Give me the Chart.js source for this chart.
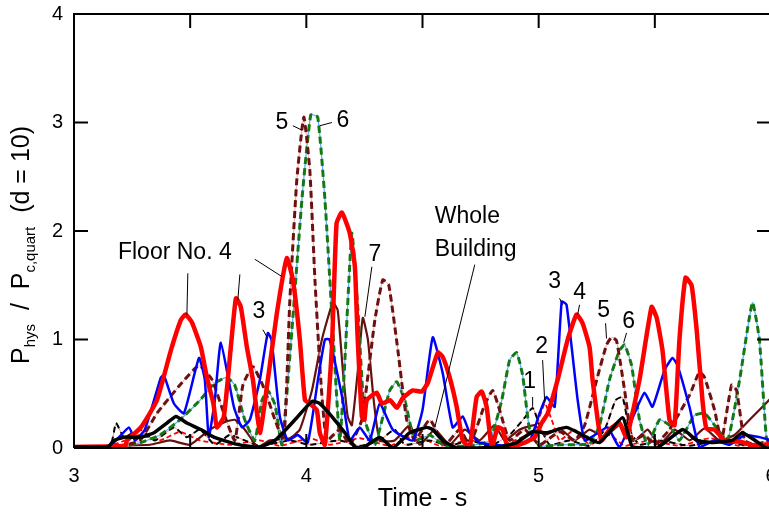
<!DOCTYPE html>
<html>
<head>
<meta charset="utf-8">
<script src="https://cdn.jsdelivr.net/npm/chart.js@4/dist/chart.umd.min.js"></script>
<style>
  html, body { margin: 0; padding: 0; background: #fff; overflow: hidden; }
  #wrap { width: 776px; height: 512px; }
</style>
</head>
<body>
<div id="wrap"><canvas id="chart" width="776" height="512"></canvas></div>
<script>
// time (s) / P_hys over P_c,quart
const xTickLabels = [3, 4, 5, 6];
const yTickLabels = [0, 1, 2, 3, 4];

const floor4 = [[3.00,0.01],[3.22,0.02],[3.228,0.07],[3.288,0.19],[3.357,0.44],[3.417,0.90],[3.46,1.18],[3.48,1.23],[3.507,1.16],
  [3.546,0.93],[3.572,0.65],[3.60,0.41],[3.615,0.19],[3.645,0.29],[3.675,0.93],[3.697,1.38],[3.718,1.30],[3.744,0.93],[3.77,0.63],
  [3.80,0.14],[3.83,0.56],[3.873,1.24],[3.916,1.75],[3.942,1.55],[3.972,1.0],[3.994,0.44],[4.015,0.41],[4.045,0.35],[4.058,0.14],
  [4.08,0.03],[4.11,0.93],[4.13,2.07],[4.153,2.17],[4.187,1.98],[4.209,1.67],[4.22,1.06],[4.239,0.29],[4.25,0.26],[4.26,0.44],
  [4.303,0.51],[4.325,0.41],[4.36,0.44],[4.39,0.37],[4.415,0.46],[4.458,0.53],[4.497,0.52],[4.523,0.60],[4.566,0.88],[4.587,0.84],
  [4.617,0.65],[4.647,0.38],[4.673,0.07],[4.703,0.01],[4.733,0.47],[4.755,0.52],[4.776,0.38],[4.798,0.01],[4.824,0.19],[4.845,0.17],
  [4.867,0.01],[4.94,0.05],[4.983,0.10],[5.013,0.23],[5.039,0.32],[5.082,0.63],[5.125,1.0],[5.163,1.23],[5.189,1.15],[5.219,0.93],
  [5.232,0.63],[5.254,0.26],[5.27,0.07],[5.305,0.17],[5.348,0.23],[5.378,0.10],[5.434,0.63],[5.486,1.30],[5.508,1.20],[5.533,0.90],
  [5.563,0.26],[5.585,0.21],[5.606,1.0],[5.632,1.57],[5.658,1.50],[5.68,1.09],[5.705,0.44],[5.722,0.18],[5.757,0.17],[5.80,0.07],
  [5.865,0.06],[5.93,0.02],[6.0,0.04]];

const floor3 = [[3.0,0.01],[3.155,0.02],[3.237,0.19],[3.262,0.07],[3.305,0.17],[3.374,0.65],[3.387,0.67],[3.43,0.41],[3.473,0.32],
  [3.538,0.83],[3.563,0.63],[3.58,0.10],[3.606,0.44],[3.632,0.97],[3.688,0.38],[3.723,0.19],[3.757,0.26],[3.80,0.63],[3.834,1.06],
  [3.85,1.0],[3.886,0.29],[3.92,0.07],[3.963,0.12],[4.006,0.05],[4.05,0.63],[4.08,1.0],[4.10,1.0],[4.157,0.44],[4.187,0.07],
  [4.23,0.19],[4.273,0.07],[4.316,0.41],[4.372,0.17],[4.458,0.07],[4.50,0.35],[4.544,1.02],[4.587,0.69],[4.63,0.19],[4.673,0.29],
  [4.703,0.14],[4.746,0.05],[4.875,0.02],[4.961,0.07],[5.004,0.32],[5.034,0.47],[5.069,0.38],[5.099,1.35],[5.12,1.32],[5.168,0.44],
  [5.198,0.07],[5.241,0.12],[5.297,0.19],[5.348,0.01],[5.413,0.32],[5.456,0.51],[5.49,0.38],[5.542,0.72],[5.576,0.83],[5.598,0.76],
  [5.649,0.38],[5.692,0.01],[5.757,0.07],[5.822,0.03],[5.886,0.12],[5.95,0.10],[6.0,0.07]];

const floor5 = [[3.0,0.01],[3.198,0.02],[3.284,0.07],[3.357,0.32],[3.456,0.58],[3.538,0.76],[3.594,0.63],[3.645,0.32],[3.692,0.07],
  [3.727,0.58],[3.77,0.75],[3.822,0.53],[3.865,0.26],[3.903,0.07],[3.929,1.36],[3.959,2.47],[3.989,3.05],[4.015,2.56],[4.037,1.55],
  [4.062,0.63],[4.088,0.07],[4.144,0.17],[4.187,0.03],[4.239,0.26],[4.295,1.18],[4.329,1.55],[4.355,1.50],[4.394,0.90],[4.432,0.26],
  [4.467,0.07],[4.531,0.26],[4.596,0.03],[4.66,0.17],[4.703,0.03],[4.768,0.40],[4.802,0.53],[4.832,0.35],[4.875,0.07],[4.94,0.17],
  [5.004,0.03],[5.09,0.15],[5.155,0.07],[5.198,0.21],[5.25,0.63],[5.292,0.95],[5.314,1.02],[5.335,0.99],[5.37,0.53],[5.404,0.07],
  [5.456,0.12],[5.499,0.03],[5.563,0.17],[5.65,0.49],[5.692,0.70],[5.714,0.65],[5.757,0.35],[5.787,0.07],[5.83,0.58],[5.852,0.53],
  [5.886,0.07],[5.929,0.03],[6.0,0.07]];

const floor6 = [[3.0,0.01],[3.22,0.02],[3.288,0.05],[3.37,0.12],[3.456,0.26],[3.542,0.44],[3.606,0.60],[3.658,0.65],[3.692,0.58],
  [3.735,0.26],[3.778,0.07],[3.809,0.44],[3.834,0.53],[3.865,0.40],[3.895,0.03],[3.938,1.09],[3.981,2.29],[4.019,3.07],[4.049,3.05],
  [4.08,2.29],[4.114,1.09],[4.144,0.07],[4.166,0.81],[4.196,1.98],[4.222,1.27],[4.252,0.26],[4.295,0.03],[4.359,0.53],[4.389,0.61],
  [4.424,0.44],[4.467,0.07],[4.531,0.12],[4.596,0.02],[4.703,0.02],[4.789,0.07],[4.841,0.44],[4.875,0.81],[4.905,0.88],[4.931,0.67],
  [4.961,0.17],[5.004,0.02],[5.09,0.03],[5.219,0.04],[5.262,0.21],[5.305,0.63],[5.348,0.90],[5.37,0.95],[5.40,0.76],[5.434,0.26],
  [5.469,0.03],[5.52,0.26],[5.563,0.21],[5.606,0.07],[5.67,0.30],[5.714,0.32],[5.757,0.21],[5.813,0.07],[5.865,0.63],[5.92,1.34],
  [5.95,1.0],[5.98,0.10],[6.0,0.03]];

const floor7 = [[3.0,0.01],[3.327,0.03],[3.413,0.07],[3.499,0.03],[3.585,0.17],[3.65,0.24],[3.692,0.26],[3.735,0.17],[3.791,0.01],
  [3.843,0.07],[3.929,0.09],[3.972,0.17],[4.024,0.53],[4.067,1.0],[4.114,1.34],[4.135,1.27],[4.157,0.72],[4.178,0.29],[4.196,0.21],
  [4.222,0.72],[4.243,1.20],[4.265,1.0],[4.29,0.44],[4.316,0.07],[4.38,0.07],[4.445,0.21],[4.488,0.03],[4.553,0.17],[4.617,0.03],
  [4.682,0.17],[4.746,0.07],[4.81,0.21],[4.854,0.07],[4.918,0.17],[4.983,0.21],[5.026,0.12],[5.09,0.18],[5.155,0.07],[5.219,0.17],
  [5.284,0.10],[5.348,0.21],[5.413,0.07],[5.469,0.17],[5.52,0.03],[5.585,0.17],[5.65,0.07],[5.714,0.18],[5.778,0.07],[5.843,0.12],
  [5.908,0.26],[6.0,0.46]];

const floor1 = [[3.0,0.01],[3.155,0.02],[3.181,0.23],[3.215,0.10],[3.284,0.17],[3.348,0.07],[3.43,0.19],[3.486,0.10],[3.542,0.17],
  [3.606,0.03],[3.67,0.12],[3.735,0.07],[3.80,0.02],[3.929,0.07],[4.015,0.03],[4.144,0.07],[4.23,0.02],[4.316,0.07],[4.38,0.17],
  [4.424,0.03],[4.531,0.07],[4.617,0.02],[4.703,0.07],[4.789,0.02],[4.875,0.12],[4.94,0.28],[4.974,0.37],[5.004,0.21],[5.047,0.03],
  [5.133,0.07],[5.219,0.02],[5.284,0.17],[5.331,0.44],[5.361,0.47],[5.391,0.17],[5.434,0.03],[5.52,0.07],[5.65,0.02],[5.778,0.07],
  [5.908,0.02],[6.0,0.07]];

const floor2 = [[3.0,0.01],[3.155,0.02],[3.22,0.07],[3.284,0.12],[3.37,0.07],[3.456,0.15],[3.542,0.07],[3.67,0.03],[3.80,0.07],
  [3.886,0.02],[4.015,0.09],[4.101,0.03],[4.23,0.09],[4.359,0.02],[4.467,0.12],[4.574,0.02],[4.703,0.07],[4.832,0.02],[4.918,0.09],
  [4.983,0.17],[5.026,0.41],[5.056,0.26],[5.09,0.07],[5.155,0.17],[5.219,0.03],[5.305,0.12],[5.37,0.02],[5.477,0.07],[5.606,0.02],
  [5.736,0.09],[5.865,0.02],[6.0,0.07]];

const wholeBuilding = [[3.0,0.01],[3.146,0.01],[3.172,0.07],[3.215,0.10],[3.288,0.10],[3.344,0.14],[3.40,0.23],[3.439,0.29],
  [3.486,0.23],[3.546,0.17],[3.602,0.10],[3.675,0.05],[3.735,0.02],[3.80,0.01],[3.865,0.07],[3.951,0.26],[4.024,0.43],[4.058,0.41],
  [4.11,0.29],[4.166,0.14],[4.209,0.01],[4.243,0.0],[4.316,0.10],[4.372,0.0],[4.445,0.14],[4.518,0.19],[4.544,0.17],[4.587,0.07],
  [4.647,0.0],[4.733,0.0],[4.832,0.01],[4.905,0.05],[4.974,0.15],[5.034,0.14],[5.12,0.19],[5.206,0.10],[5.262,0.05],[5.361,0.28],
  [5.404,0.01],[5.508,0.0],[5.62,0.17],[5.68,0.07],[5.748,0.05],[5.834,0.07],[5.877,0.14],[5.98,0.0],[6.0,0.0]];

// labels on the plot: text position and leader line, in data units
const notes = [
  { text: '5', at: [3.895, 3.0], line: [[3.942, 2.97], [3.981, 2.93]] },
  { text: '6', at: [4.157, 3.02], line: [[4.11, 3.0], [4.058, 2.97]] },
  { text: 'Floor No. 4', at: [3.434, 1.80], line: [[3.49, 1.61], [3.486, 1.23]] },
  { text: '', at: null, line: [[3.714, 1.60], [3.705, 1.36]] },
  { text: '', at: null, line: [[3.778, 1.74], [3.895, 1.58]] },
  { text: '3', at: [3.796, 1.26], line: [[3.813, 1.09], [3.834, 1.01]] },
  { text: '7', at: [4.295, 1.78], line: [[4.282, 1.67], [4.252, 1.21]] },
  { text: 'Whole', at: [4.553, 2.13], align: 'left', line: [[4.725, 1.69], [4.553, 0.19]] },
  { text: 'Building', at: [4.553, 1.83], align: 'left', line: null },
  { text: '1', at: [4.961, 0.61], line: [[4.974, 0.47], [4.974, 0.38]] },
  { text: '2', at: [5.013, 0.93], line: [[5.017, 0.81], [5.026, 0.42]] },
  { text: '3', at: [5.069, 1.53], line: [[5.09, 1.38], [5.103, 1.32]] },
  { text: '4', at: [5.176, 1.43], line: [[5.176, 1.32], [5.168, 1.23]] },
  { text: '5', at: [5.28, 1.27], line: [[5.288, 1.15], [5.292, 1.01]] },
  { text: '6', at: [5.387, 1.16], line: [[5.378, 1.06], [5.366, 0.97]] }
];

const FONT = '"Liberation Sans", Arial, sans-serif';
const pts = arr => arr.map(p => ({ x: p[0], y: p[1] }));

function line(label, data, color, width, dash) {
  return {
    label: label,
    data: pts(data),
    borderColor: color,
    borderWidth: width,
    borderDash: dash || [],
    pointRadius: 0,
    tension: 0.15,
    fill: false
  };
}

// inward ticks, box, rotated y title with subscripts, and the labels
const framePlugin = {
  id: 'frame',
  afterDatasetsDraw(chart) {
    const ctx = chart.ctx;
    const a = chart.chartArea;
    const xs = chart.scales.x, ys = chart.scales.y;
    ctx.save();
    ctx.strokeStyle = '#000';
    ctx.lineWidth = 2;
    ctx.beginPath();
    ctx.moveTo(a.left, a.bottom); ctx.lineTo(a.left, a.top); ctx.lineTo(a.right, a.top);
    ctx.lineTo(a.right, a.bottom); ctx.lineTo(a.left, a.bottom);
    ctx.stroke();
    const len = 14;
    ctx.beginPath();
    for (let t = 3; t <= 6.001; t += 0.5) {
      const px = xs.getPixelForValue(t);
      ctx.moveTo(px, a.top); ctx.lineTo(px, a.top + len);
      ctx.moveTo(px, a.bottom); ctx.lineTo(px, a.bottom - len);
    }
    yTickLabels.forEach(v => {
      const py = ys.getPixelForValue(v);
      ctx.moveTo(a.left, py); ctx.lineTo(a.left + len, py);
      ctx.moveTo(a.right, py); ctx.lineTo(a.right - len, py);
    });
    ctx.stroke();

    // annotations
    ctx.lineWidth = 1;
    ctx.fillStyle = '#000';
    ctx.font = '23px ' + FONT;
    ctx.textBaseline = 'middle';
    notes.forEach(n => {
      if (n.line) {
        ctx.beginPath();
        ctx.moveTo(xs.getPixelForValue(n.line[0][0]), ys.getPixelForValue(n.line[0][1]));
        ctx.lineTo(xs.getPixelForValue(n.line[1][0]), ys.getPixelForValue(n.line[1][1]));
        ctx.stroke();
      }
      if (n.at && n.text) {
        ctx.textAlign = n.align || 'center';
        ctx.fillText(n.text, xs.getPixelForValue(n.at[0]), ys.getPixelForValue(n.at[1]));
      }
    });

    // y axis title
    const parts = [
      ['P', 25, 0], ['hys', 15, 6], ['  /  P', 25, 0], ['c,quart', 15, 6], ['  (d = 10)', 25, 0]
    ];
    let total = 0;
    parts.forEach(p => { ctx.font = p[1] + 'px ' + FONT; total += ctx.measureText(p[0]).width; });
    ctx.translate(ys.left + 29, a.top + 231);
    ctx.rotate(-Math.PI / 2);
    ctx.textAlign = 'left';
    ctx.textBaseline = 'alphabetic';
    let x = -total / 2;
    parts.forEach(p => {
      ctx.font = p[1] + 'px ' + FONT;
      ctx.fillText(p[0], x, p[2]);
      x += ctx.measureText(p[0]).width;
    });
    ctx.restore();
  }
};

new Chart(document.getElementById('chart'), {
  type: 'line',
  data: {
    datasets: [
      line('Whole Building', wholeBuilding, '#000000', 3.5),
      line('Floor 4', floor4, '#ff0000', 4.5),
      line('Floor 3', floor3, '#0000ff', 2.5),
      line('Floor 5', floor5, '#6e1010', 3, [7, 4]),
      line('Floor 5 base', floor5, '#e8a8a8', 1),
      line('Floor 6', floor6, '#137a13', 3, [7, 4]),
      line('Floor 6 base', floor6, '#5aa8ff', 1.2),
      line('Floor 7', floor7, '#661010', 2.2),
      line('Floor 1', floor1, '#000000', 2, [6, 4]),
      line('Floor 1 base', floor1, '#ff8080', 1),
      line('Floor 2', floor2, '#ff0000', 1.8, [5, 3])
    ]
  },
  options: {
    responsive: false,
    animation: false,
    events: [],
    layout: { padding: { top: 14, right: 5, left: 0, bottom: 0 } },
    plugins: { legend: { display: false }, tooltip: { enabled: false } },
    scales: {
      x: {
        type: 'linear',
        min: 3,
        max: 6,
        grid: { display: false, drawTicks: false },
        border: { display: false },
        ticks: {
          stepSize: 0.5,
          autoSkip: false,
          maxRotation: 0,
          padding: 16,
          color: '#000',
          font: { family: FONT, size: 20 },
          callback: v => xTickLabels.includes(v) ? String(v) : ''
        },
        title: {
          display: true,
          text: 'Time - s',
          color: '#000',
          font: { family: FONT, size: 25, lineHeight: 1 },
          padding: { top: 0, bottom: 0 }
        },
        afterFit: s => { s.height = 64; s.paddingLeft = 0; s.paddingRight = 0; }
      },
      y: {
        min: 0,
        max: 4,
        grid: { display: false, drawTicks: false },
        border: { display: false },
        ticks: {
          stepSize: 1,
          padding: 11,
          color: '#000',
          font: { family: FONT, size: 20 },
          callback: v => yTickLabels.includes(v) ? String(v) : ''
        },
        afterFit: s => { s.width = 74; s.paddingTop = 0; s.paddingBottom = 0; }
      }
    }
  },
  plugins: [framePlugin]
});
</script>
</body>
</html>
